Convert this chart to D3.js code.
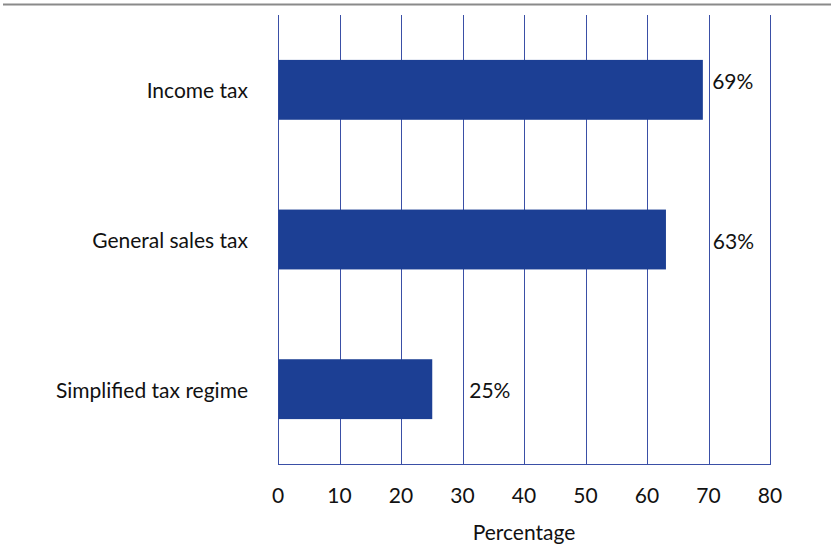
<!DOCTYPE html>
<html>
<head>
<meta charset="utf-8">
<script src="https://cdn.jsdelivr.net/npm/d3@7"></script>
<style>
  html, body { margin: 0; padding: 0; background: #fff; }
  svg { display: block; font-family: "Myriad Pro", "Lato", "Noto Sans", sans-serif; }
</style>
</head>
<body>
<svg id="chart" width="831" height="553"></svg>
<script>
// Share of respondents per tax type
const categories = ["Income tax", "General sales tax", "Simplified tax regime"];
const values = [69, 63, 25];
const valueLabels = ["69%", "63%", "25%"];
// where each value label sits, in axis units, plus a small vertical nudge in band fractions
const labelX = [70.6, 70.7, 31.1];
const labelDy = [-0.06, 0.01, 0];
const xTicks = [0, 10, 20, 30, 40, 50, 60, 70, 80];
const xTitle = "Percentage";

const svg = d3.select("#chart");
const W = 831, H = 553;
const m = { left: 278, right: 61, top: 15, bottom: 89 };
const fs = 21;

const x = d3.scaleLinear().domain([0, 80]).range([m.left, W - m.right]);
const y = d3.scaleBand().domain(categories).range([m.top, H - m.bottom])
  .paddingInner(0.6).paddingOuter(0.3);

const blue = "#1c3f94";
const grid = "#3a4fa6";

// rule across the top
svg.append("line")
  .attr("x1", 3).attr("x2", W).attr("y1", 4.5).attr("y2", 4.5)
  .attr("stroke", "#8a8a8a").attr("stroke-width", 2);

// vertical gridlines
svg.append("g").selectAll("line").data(xTicks).join("line")
  .attr("x1", d => Math.round(x(d)) + 0.5).attr("x2", d => Math.round(x(d)) + 0.5)
  .attr("y1", m.top).attr("y2", H - m.bottom)
  .attr("stroke", grid).attr("stroke-width", 1);

// bottom axis line
svg.append("line")
  .attr("x1", x(0)).attr("x2", Math.round(x(80)) + 1)
  .attr("y1", H - m.bottom + 0.5).attr("y2", H - m.bottom + 0.5)
  .attr("stroke", grid).attr("stroke-width", 1);

// bars
svg.append("g").selectAll("rect").data(values).join("rect")
  .attr("x", x(0) + 0.5)
  .attr("y", (d, i) => y(categories[i]))
  .attr("width", d => x(d) - x(0))
  .attr("height", y.bandwidth())
  .attr("fill", blue);

// category labels
svg.append("g").selectAll("text").data(categories).join("text")
  .attr("x", x(0) - 30)
  .attr("y", d => y(d) + y.bandwidth() / 2)
  .attr("text-anchor", "end")
  .attr("dominant-baseline", "central")
  .attr("font-size", fs)
  .attr("fill", "#111")
  .text(d => d);

// value labels
svg.append("g").selectAll("text").data(valueLabels).join("text")
  .attr("x", (d, i) => x(labelX[i]))
  .attr("y", (d, i) => y(categories[i]) + y.bandwidth() / 2 + labelDy[i] * y.step())
  .attr("dominant-baseline", "central")
  .attr("font-size", fs)
  .attr("fill", "#111")
  .text(d => d);

// x tick labels
svg.append("g").selectAll("text").data(xTicks).join("text")
  .attr("x", d => x(d))
  .attr("y", H - m.bottom + 30)
  .attr("text-anchor", "middle")
  .attr("dominant-baseline", "central")
  .attr("font-size", fs)
  .attr("fill", "#111")
  .text(d => d);

// axis title
svg.append("text")
  .attr("x", x(40))
  .attr("y", H - m.bottom + 67)
  .attr("text-anchor", "middle")
  .attr("dominant-baseline", "central")
  .attr("font-size", fs)
  .attr("fill", "#111")
  .text(xTitle);
</script>
</body>
</html>
